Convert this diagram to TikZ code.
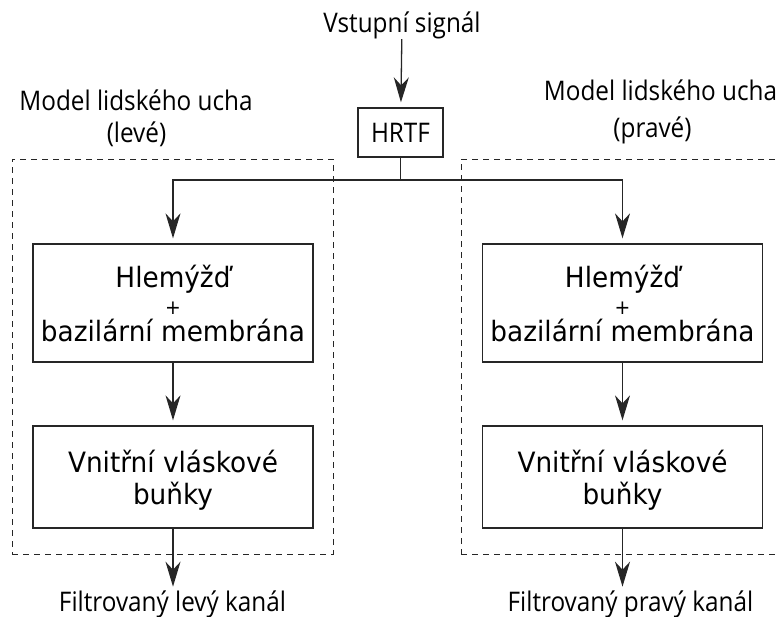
\documentclass[tikz,border=0pt]{standalone}
\usepackage{fontspec}
\usetikzlibrary{arrows.meta}
\newfontfamily\labelfont[FakeStretch=0.9]{Open Sans}
\newfontfamily\boxfont[FakeStretch=0.94]{DejaVu Sans}
\begin{document}
\begin{tikzpicture}[x=1pt,y=-1pt,
  line width=1.3pt, draw=black!85,
  lbl/.style={font=\labelfont\fontsize{27}{32}\selectfont, inner sep=0pt, anchor=base},
  blk/.style={draw=black!85, rectangle, minimum width=280pt, inner sep=0pt, align=center},
  arr/.style={-{Stealth[length=25pt,width=15pt,inset=8pt]}, shorten >=5pt},
  grp/.style={draw=black!85, rectangle, line width=1pt, dash pattern=on 6pt off 5pt, inner sep=0pt}
]
\useasboundingbox (0,0) rectangle (778,616);
\clip (0,0) rectangle (778,616);

% dashed outlines of the two ear models
\node[grp, minimum width=321pt, minimum height=395pt] (gl) at (172.5,356.5) {};
\node[grp, minimum width=339pt, minimum height=395pt] (gr) at (630.5,356.5) {};

% group captions
\node[lbl] (gl1) at (136,110) {Model lidského ucha};
\node[lbl] (gl2) at (136.5,142) {(levé)};
\node[lbl] (gr1) at (660.5,100) {Model lidského ucha};
\node[lbl] (gr2) at (652.5,137) {(pravé)};

% input and HRTF
\node[lbl] (in) at (402,32) {Vstupní signál};
\node[draw=black!85, rectangle, minimum width=85pt, minimum height=49pt, inner sep=0pt,
      font=\labelfont\fontsize{27}{32}\selectfont] (hrtf) at (400.5,132.5) {HRTF};

% processing blocks, left ear
\node[blk, minimum height=118pt, font=\boxfont\fontsize{28}{27}\selectfont] (cl) at (173,303)
  {Hlemýžď\\{\fontsize{20}{27}\selectfont +}\\bazilární membrána};
\node[blk, minimum height=102pt, text depth=0pt, font=\boxfont\fontsize{28}{32}\selectfont] (hl) at (173,477)
  {Vnitřní vláskové\\buňky};

% processing blocks, right ear
\node[blk, minimum height=118pt, font=\boxfont\fontsize{28}{27}\selectfont] (cr) at (622.5,303)
  {Hlemýžď\\{\fontsize{20}{27}\selectfont +}\\bazilární membrána};
\node[blk, minimum height=102pt, text depth=0pt, font=\boxfont\fontsize{28}{32}\selectfont] (hr) at (622.5,477)
  {Vnitřní vláskové\\buňky};

% outputs
\node[lbl] (outl) at (172.5,611) {Filtrovaný levý kanál};
\node[lbl] (outr) at (630.5,611) {Filtrovaný pravý kanál};

% connectors
\coordinate (jm) at (400.5,180);
\draw[arr] (in) -- (hrtf);
\draw (hrtf.south) -- (jm);
\draw[arr] (jm) -| (cl.north);
\draw[arr] (jm) -| (cr.north);
\draw[arr] (cl) -- (hl);
\draw[arr] (cr) -- (hr);
\draw[arr, shorten >=3pt] (hl.south) -- (hl.south |- outl.north);
\draw[arr, shorten >=3pt] (hr.south) -- (hr.south |- outr.north);
\end{tikzpicture}
\end{document}
